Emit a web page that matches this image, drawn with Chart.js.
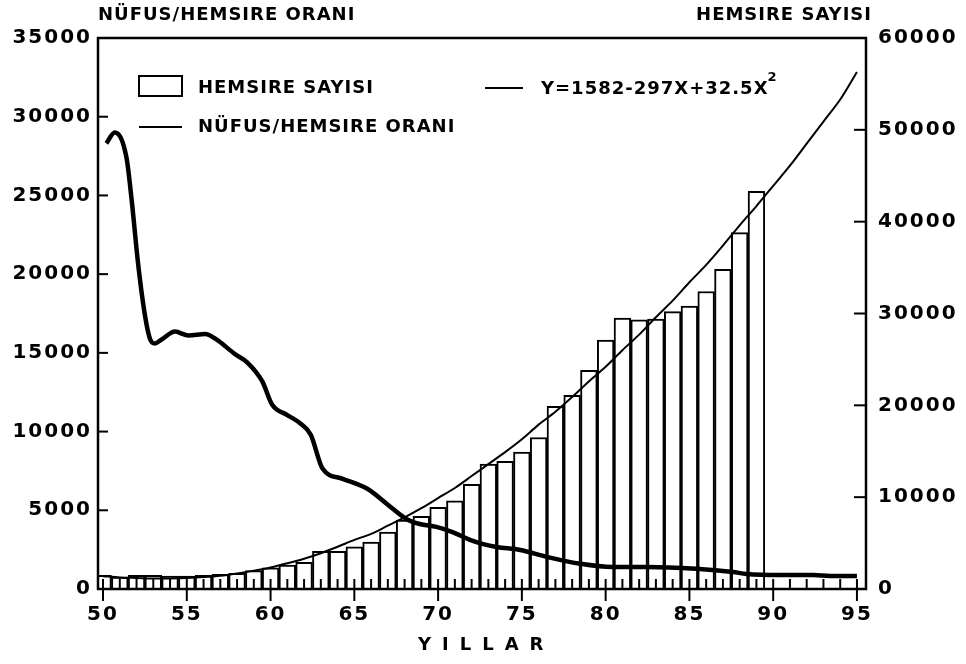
<!DOCTYPE html>
<html>
<head>
<meta charset="utf-8">
<script src="https://cdn.jsdelivr.net/npm/chart.js@4.4.1/dist/chart.umd.min.js"></script>
<style>html,body{margin:0;background:#fff}</style>
</head>
<body>
<canvas id="c" width="966" height="664"></canvas>
<script>
// x axis labels and the two y scales
const xLabels=[50,55,60,65,70,75,80,85,90,95];
const leftTicks=[0,5000,10000,15000,20000,25000,30000,35000];
const rightTicks=[0,10000,20000,30000,40000,50000,60000];

// HEMSIRE SAYISI (bars, right axis)
const barYears=[50,51,52,53,54,55,56,57,58,59,60,61,62,63,64,65,66,67,68,69,70,71,72,73,74,75,76,77,78,79,80,81,82,83,84,85,86,87,88,89];
const barValues=[1500,1300,1500,1500,1400,1400,1500,1600,1700,2000,2300,2600,2900,4100,4100,4600,5100,6200,7500,7900,8900,9600,11400,13600,13900,14900,16500,19900,21100,23800,27100,29500,29300,29400,30200,30800,32400,34800,38800,43300];

// fitted curve (right axis)
const fitYears=[50,51,52,53,54,55,56,57,58,59,60,61,62,63,64,65,66,67,68,69,70,71,72,73,74,75,76,77,78,79,80,81,82,83,84,85,86,87,88,89,90,91,92,93,94,95];
const fitValues=[1400,1250,1200,1150,1150,1200,1300,1450,1700,2000,2350,2800,3300,3900,4600,5350,6000,6900,7800,8800,9900,11000,12300,13600,14900,16300,17900,19300,20900,22600,24200,26000,27700,29600,31400,33400,35300,37400,39600,41700,43900,46100,48500,50900,53300,56300];

// NUFUS/HEMSIRE ORANI (thick line, left axis)
const ratioYears=[50.2,50.7,51.4,51.7,52.1,52.5,52.8,53.1,53.5,54.3,55.1,56.1,56.7,57.9,58.6,59.5,60.1,61.0,61.8,62.4,63.1,64.3,65.8,67.0,68.1,68.9,69.9,70.9,71.9,72.7,73.5,74.9,76.5,78.5,80.4,82.5,85.4,87.6,88.4,90.4,92.4,93.4,95.0];
const ratioValues=[28300,29000,27400,24800,20600,17400,15900,15600,15850,16350,16100,16200,15900,14900,14400,13200,11700,11050,10500,9800,7650,7000,6350,5350,4450,4130,3950,3600,3120,2850,2670,2480,2040,1600,1400,1400,1280,1080,960,890,890,830,830];

const pts=(xs,ys)=>xs.map((x,i)=>({x:x,y:ys[i]}));
const FAM='"DejaVu Sans"';
const tickFont={family:FAM,size:20,weight:'bold'};

const deco={
 id:'deco',
 beforeDraw(c){c.ctx.letterSpacing='2px';},
 afterDraw(c){
  const ctx=c.ctx,a=c.chartArea,x=c.scales.x,yL=c.scales.yL,yR=c.scales.yR;
  ctx.save();
  ctx.strokeStyle='#000';ctx.fillStyle='#000';
  ctx.lineWidth=2.5;
  ctx.strokeRect(a.left,a.top,a.right-a.left,a.bottom-a.top);
  // small year ticks inside, major ones also below
  ctx.lineWidth=2;
  for(let yr=xLabels[0];yr<=xLabels[xLabels.length-1];yr++){
   const px=x.getPixelForValue(yr);
   const major=xLabels.includes(yr);
   ctx.beginPath();ctx.moveTo(px,a.bottom+(major?12:0));ctx.lineTo(px,a.bottom-10);ctx.stroke();
  }
  leftTicks.slice(1,-1).forEach(v=>{const py=yL.getPixelForValue(v);ctx.beginPath();ctx.moveTo(a.left,py);ctx.lineTo(a.left+10,py);ctx.stroke();});
  rightTicks.slice(1,-1).forEach(v=>{const py=yR.getPixelForValue(v);ctx.beginPath();ctx.moveTo(a.right,py);ctx.lineTo(a.right-12,py);ctx.stroke();});

  // axis titles
  ctx.font='bold 18px '+FAM;ctx.letterSpacing='1px';ctx.textBaseline='middle';
  ctx.textAlign='left';ctx.fillText('NÜFUS/HEMSIRE ORANI',a.left,15);
  ctx.textAlign='right';ctx.fillText('HEMSIRE SAYISI',a.right+6,15);
  ctx.letterSpacing='11px';ctx.textAlign='left';
  ctx.fillText('YILLAR',(a.left+a.right)/2-64,645);

  // legend
  ctx.letterSpacing='1px';ctx.textAlign='left';
  const ds=c.data.datasets;
  const bar=ds.find(d=>d.type==='bar'),ratio=ds.find(d=>d.yAxisID==='yL'&&d.type==='line'),fit=ds.find(d=>d.yAxisID==='yR'&&d.type==='line');
  ctx.lineWidth=2;
  ctx.strokeRect(139,76,43,20);
  ctx.fillText(bar.label,198,88);
  ctx.beginPath();ctx.moveTo(139,127);ctx.lineTo(182,127);ctx.stroke();
  ctx.fillText(ratio.label,198,127);
  ctx.beginPath();ctx.moveTo(485,88);ctx.lineTo(523,88);ctx.stroke();
  let t=fit.label,sup='';
  if(t.endsWith('²')){t=t.slice(0,-1);sup='2';}
  ctx.fillText(t,541,89);
  if(sup){const w=ctx.measureText(t).width;ctx.font='bold 13px '+FAM;ctx.fillText(sup,541+w-1,78);}
  ctx.restore();
 }
};

new Chart(document.getElementById('c'),{
 type:'bar',
 data:{datasets:[
  {type:'line',label:'NÜFUS/HEMSIRE ORANI',data:pts(ratioYears,ratioValues),yAxisID:'yL',borderColor:'#000',borderWidth:4.5,pointRadius:0,tension:0.4,cubicInterpolationMode:'monotone',order:0},
  {type:'line',label:'Y=1582-297X+32.5X²',data:pts(fitYears,fitValues),yAxisID:'yR',borderColor:'#000',borderWidth:2,pointRadius:0,tension:0.3,order:1},
  {type:'bar',label:'HEMSIRE SAYISI',data:pts(barYears,barValues),yAxisID:'yR',backgroundColor:'#fff',borderColor:'#000',borderWidth:2,barPercentage:1,categoryPercentage:1,order:2}
 ]},
 options:{
  responsive:false,animation:false,
  layout:{padding:{top:38,left:0,right:0,bottom:0}},
  plugins:{legend:{display:false},tooltip:{enabled:false}},
  scales:{
   x:{type:'linear',min:49.7,max:95.54,offset:false,
      grid:{display:false,drawTicks:false},border:{display:false},
      afterBuildTicks:s=>{s.ticks=xLabels.map(v=>({value:v}));},
      afterFit:s=>{s.height=75;},
      ticks:{color:'#000',font:tickFont,padding:14,maxRotation:0,autoSkip:false,callback:v=>String(v)}},
   yL:{type:'linear',position:'left',min:0,max:35000,
      grid:{display:false,drawTicks:false},border:{display:false},
      afterBuildTicks:s=>{s.ticks=leftTicks.map(v=>({value:v}));},
      afterFit:s=>{s.width=98;},
      ticks:{color:'#000',font:tickFont,padding:6,callback:v=>String(v)}},
   yR:{type:'linear',position:'right',min:0,max:60000,
      grid:{display:false,drawTicks:false},border:{display:false},
      afterBuildTicks:s=>{s.ticks=rightTicks.map(v=>({value:v}));},
      afterFit:s=>{s.width=100;},
      ticks:{color:'#000',font:tickFont,padding:12,callback:v=>String(v)}}
  }
 },
 plugins:[deco]
});
</script>
</body>
</html>
